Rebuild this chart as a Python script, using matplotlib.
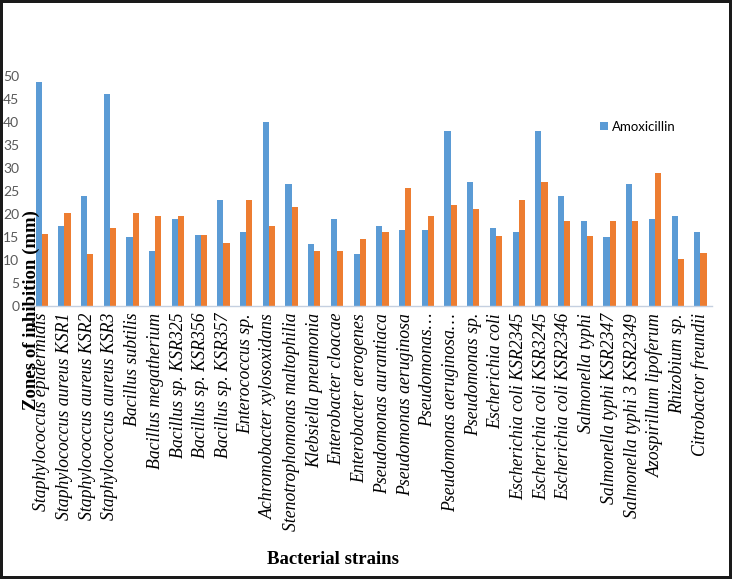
import numpy as np
import matplotlib
matplotlib.use('Agg')
from matplotlib import pyplot as plt

# strains as they appear on the x axis
strains = ['Staphylococcus epidermidis', 'Staphylococcus aureus KSR1',
           'Staphylococcus aureus KSR2', 'Staphylococcus aureus KSR3',
           'Bacillus subtilis', 'Bacillus megatherium', 'Bacillus sp. KSR325',
           'Bacillus sp. KSR356', 'Bacillus sp. KSR357', 'Enterococcus sp.',
           'Achromobacter xylosoxidans', 'Stenotrophomonas maltophilia',
           'Klebsiella pneumonia', 'Enterobacter cloacae',
           'Enterobacter aerogenes', 'Pseudomonas aurantiaca',
           'Pseudomonas aeruginosa', 'Pseudomonas\u2026',
           'Pseudomonas aeruginosa\u2026', 'Pseudomonas sp.', 'Escherichia coli',
           'Escherichia coli KSR2345', 'Escherichia coli KSR3245',
           'Escherichia coli KSR2346', 'Salmonella typhi',
           'Salmonella typhi KSR2347', 'Salmonella typhi 3 KSR2349',
           'Azospirillum lipoferum', 'Rhizobium sp.', 'Citrobactor freundii']

amoxicillin = [48.6, 17.5, 24.0, 46.1, 15.0, 12.0, 19.0, 15.5, 23.0, 16.0,
               40.1, 26.5, 13.5, 19.0, 11.4, 17.5, 16.5, 16.5, 38.0, 27.0,
               17.0, 16.0, 38.0, 24.0, 18.5, 15.0, 26.5, 19.0, 19.5, 16.0]
second = [15.6, 20.3, 11.4, 17.0, 20.3, 19.6, 19.6, 15.5, 13.6, 23.0,
          17.5, 21.6, 12.0, 12.0, 14.5, 16.1, 25.7, 19.6, 22.0, 21.1,
          15.3, 23.0, 27.0, 18.5, 15.3, 18.5, 18.5, 29.0, 10.2, 11.5]

yticks = np.arange(0, 51, 5)

fig = plt.figure(figsize=(7.32, 5.79), dpi=100)
fig.patch.set_edgecolor('#1a1a1a')
fig.patch.set_linewidth(3)

ax = fig.add_axes([0.0415, 0.4715, 0.9309, 0.3972])
x = np.arange(len(strains))
w = 0.27
b1 = ax.bar(x - w/2, amoxicillin, w, color='#5b9bd5', label='Amoxicillin')
b2 = ax.bar(x + w/2, second, w, color='#ed7d31')

ax.set_xlim(-0.5, len(strains) - 0.5)
ax.set_ylim(0, 50)
ax.set_yticks(yticks)
ax.set_yticklabels([str(v) for v in yticks], fontfamily='Lato', fontsize=10,
                   color='#595959')
ax.tick_params(axis='y', length=0, pad=8)
ax.set_xticks(x)
ax.set_xticklabels(strains, rotation=90, fontfamily='Liberation Serif',
                   fontstyle='italic', fontsize=12.8, va='top', ha='center')
ax.tick_params(axis='x', length=0, pad=5)
for s in ['top', 'right', 'left']:
    ax.spines[s].set_visible(False)
ax.spines['bottom'].set_color('#c5d0e0')
ax.spines['bottom'].set_linewidth(1)

ax.legend(handles=[b1], loc='center left', bbox_to_anchor=(0.818, 0.78),
          frameon=False, prop={'family': 'Lato', 'size': 9.5},
          handlelength=0.6, handleheight=0.6, handletextpad=0.3)

fig.text(0.043, 0.465, 'Zones of inhibition (mm)', rotation=90,
         fontfamily='Liberation Serif', fontweight='bold', fontsize=13.5,
         ha='center', va='center')
fig.text(0.455, 0.033, 'Bacterial strains', fontfamily='Liberation Serif',
         fontweight='bold', fontsize=13.5, ha='center', va='center')

fig.savefig('out.png', dpi=100)
